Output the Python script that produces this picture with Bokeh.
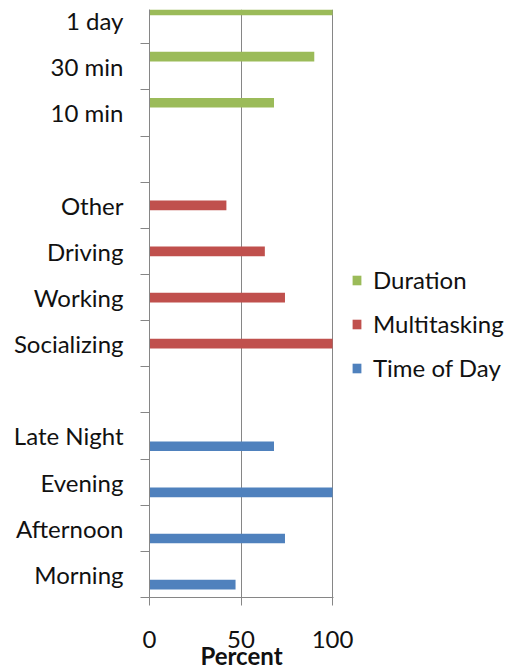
from bokeh.plotting import figure
from bokeh.models import (ColumnDataSource, FixedTicker, Range1d, Legend,
                          LegendItem)
from bokeh.embed import file_html
from bokeh.resources import INLINE

# Values per group (percent), listed bottom-to-top as drawn
time_labels = ["Morning", "Afternoon", "Evening", "Late Night"]
time_values = [47, 74, 100, 68]

multi_labels = ["Socializing", "Working", "Driving", "Other"]
multi_values = [100, 74, 63, 42]

dur_labels = ["10 min", "30 min", "1 day"]
dur_values = [68, 90, 100]

series_names = ["Time of Day", "Multitasking", "Duration"]
series_colors = ["#4F81BD", "#C0504D", "#9BBB59"]
x_ticks = [0, 50, 100]

FONT = "Lato"
FONT_SIZE = "24px"
TEXT = "#111111"
GRAY = "#868686"
BAR_H = 0.21
OFFSET = 0.222

# Slot layout: each group occupies consecutive slots, with an empty slot between
groups = [(time_labels, time_values), (multi_labels, multi_values),
          (dur_labels, dur_values)]
slot_labels = []
group_slots = []
for gi, (labels, _) in enumerate(groups):
    if gi > 0:
        slot_labels.append("")
    start = len(slot_labels)
    slot_labels.extend(labels)
    group_slots.append(list(range(start, start + len(labels))))
n_slots = len(slot_labels)

p = figure(frame_width=184, frame_height=588, x_range=Range1d(0, 100.5),
           y_range=Range1d(0, 12.743), output_backend="svg",
           toolbar_location=None, min_border_left=149, min_border_right=175,
           min_border_top=9, min_border_bottom=74)
p.outline_line_color = None
p.background_fill_color = "white"
p.border_fill_color = "white"

renderers = []
for gi, ((labels, values), slots) in enumerate(zip(groups, group_slots)):
    shift = (gi - 1) * OFFSET
    src = ColumnDataSource(dict(y=[s + 0.5 + shift for s in slots],
                                right=values))
    r = p.hbar(y="y", right="right", left=0, height=BAR_H, source=src,
               fill_color=series_colors[gi], line_color=None)
    renderers.append(r)

# x axis and vertical gridlines
p.xaxis.ticker = FixedTicker(ticks=x_ticks)
p.xaxis.axis_line_color = GRAY
p.xaxis.major_tick_line_color = GRAY
p.xaxis.major_tick_out = 8
p.xaxis.major_tick_in = 0
p.xaxis.minor_tick_line_color = None
p.xaxis.major_label_text_font = FONT
p.xaxis.major_label_text_font_size = FONT_SIZE
p.xaxis.major_label_text_color = TEXT
p.xaxis.major_label_standoff = 25
p.xaxis.axis_label = "Percent"
p.xaxis.axis_label_text_font = FONT
p.xaxis.axis_label_text_font_style = "bold"
p.xaxis.axis_label_text_font_size = FONT_SIZE
p.xaxis.axis_label_text_color = TEXT
p.xaxis.axis_label_standoff = -10

p.xgrid.ticker = FixedTicker(ticks=[50, 100])
p.xgrid.grid_line_color = GRAY
p.ygrid.grid_line_color = None

# y axis: labels at slot centres, tick marks at slot boundaries
centers = [i + 0.5 for i, lab in enumerate(slot_labels) if lab]
p.yaxis.ticker = FixedTicker(ticks=centers,
                             minor_ticks=list(range(0, n_slots + 1)))
p.yaxis.major_label_overrides = {i + 0.5: lab
                                 for i, lab in enumerate(slot_labels) if lab}
p.yaxis.axis_line_color = GRAY
p.yaxis.major_tick_line_color = None
p.yaxis.major_tick_out = 0
p.yaxis.major_tick_in = 0
p.yaxis.minor_tick_line_color = GRAY
p.yaxis.minor_tick_out = 9
p.yaxis.minor_tick_in = 0
p.yaxis.major_label_text_font = FONT
p.yaxis.major_label_text_font_size = FONT_SIZE
p.yaxis.major_label_text_color = TEXT
p.yaxis.major_label_standoff = 17

items = [LegendItem(label=series_names[i], renderers=[renderers[i]])
         for i in (2, 1, 0)]
legend = Legend(items=items, location=(18, 215), glyph_width=11,
                glyph_height=12, label_standoff=11, label_height=20,
                spacing=15, padding=0, margin=0, border_line_color=None,
                background_fill_alpha=0, label_text_font=FONT,
                label_text_font_size=FONT_SIZE, label_text_color=TEXT)
p.add_layout(legend, "right")

open("out.html", "w").write(file_html(p, INLINE))
